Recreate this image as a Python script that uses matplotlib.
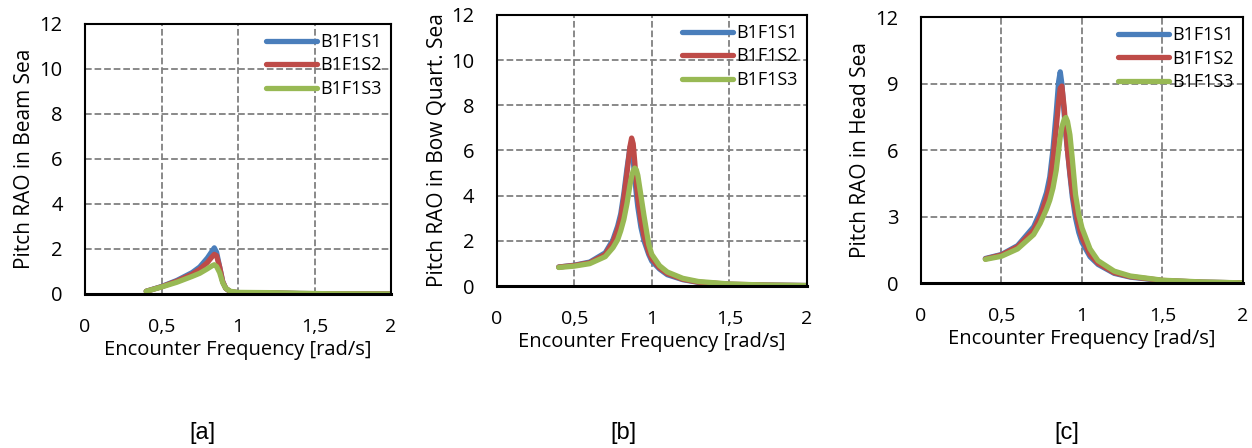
import numpy as np
import matplotlib.pyplot as plt
from matplotlib.ticker import FuncFormatter

plt.rcParams['font.family'] = ['Open Sans', 'DejaVu Sans']

series = ['B1F1S1', 'B1F1S2', 'B1F1S3']
colors = ['#4a7ebb', '#be4b48', '#98b954']

# Beam sea
x_a = [0.4, 0.5, 0.6, 0.7, 0.75, 0.8, 0.83, 0.845, 0.86, 0.88, 0.9, 0.92, 0.95, 1.0, 1.2, 1.4, 1.6, 2.0]
a_s1 = [0.12, 0.33, 0.6, 0.95, 1.2, 1.6, 1.9, 2.05, 1.85, 1.2, 0.55, 0.25, 0.1, 0.06, 0.05, 0.02, 0.01, 0.0]
a_s2 = [0.12, 0.32, 0.57, 0.88, 1.1, 1.4, 1.65, 1.76, 1.7, 1.2, 0.55, 0.25, 0.1, 0.06, 0.05, 0.02, 0.01, 0.0]
a_s3 = [0.12, 0.31, 0.52, 0.78, 0.92, 1.12, 1.25, 1.3, 1.22, 0.95, 0.5, 0.25, 0.12, 0.07, 0.06, 0.03, 0.01, 0.0]

# Bow quartering sea
x_b = [0.4, 0.5, 0.6, 0.7, 0.75, 0.78, 0.8, 0.82, 0.84, 0.86, 0.87, 0.88, 0.89, 0.9, 0.91,
       0.93, 0.95, 0.98, 1.0, 1.05, 1.1, 1.2, 1.3, 1.5, 1.75, 2.0]
b_s1 = [0.84, 0.92, 1.06, 1.47, 2.05, 2.65, 3.2, 4.1, 5.2, 6.15, 6.2, 5.6, 4.8, 4.1, 3.5,
        2.6, 2.0, 1.4, 1.1, 0.75, 0.5, 0.28, 0.16, 0.07, 0.04, 0.02]
b_s2 = [0.84, 0.91, 1.03, 1.4, 1.95, 2.5, 3.0, 3.9, 5.0, 6.2, 6.55, 6.3, 5.5, 4.6, 3.9,
        2.9, 2.2, 1.5, 1.2, 0.8, 0.55, 0.3, 0.17, 0.08, 0.04, 0.02]
b_s3 = [0.82, 0.88, 0.99, 1.3, 1.7, 2.05, 2.45, 2.95, 3.65, 4.5, 4.85, 5.1, 5.22, 5.15, 4.9,
        4.0, 3.1, 1.85, 1.4, 0.9, 0.62, 0.34, 0.2, 0.09, 0.04, 0.02]

# Head sea
x_c = [0.4, 0.5, 0.6, 0.7, 0.74, 0.78, 0.8, 0.82, 0.84, 0.855, 0.865, 0.875, 0.89, 0.9, 0.91,
       0.925, 0.94, 0.96, 0.98, 1.0, 1.05, 1.1, 1.2, 1.3, 1.5, 1.75, 2.0]
c_s1 = [1.12, 1.3, 1.7, 2.55, 3.2, 4.1, 4.8, 6.05, 7.7, 9.1, 9.54, 9.0, 7.6, 6.7, 6.0,
        4.9, 3.9, 2.95, 2.3, 1.85, 1.2, 0.85, 0.45, 0.28, 0.12, 0.05, 0.02]
c_s2 = [1.1, 1.28, 1.65, 2.4, 3.0, 3.85, 4.45, 5.6, 7.0, 8.2, 8.8, 8.9, 7.9, 6.9, 6.0,
        5.0, 4.1, 3.25, 2.6, 2.05, 1.3, 0.9, 0.48, 0.3, 0.13, 0.05, 0.02]
c_s3 = [1.08, 1.22, 1.55, 2.2, 2.7, 3.35, 3.75, 4.3, 5.1, 6.0, 6.6, 7.05, 7.4, 7.48, 7.3,
        6.7, 5.6, 4.0, 3.1, 2.5, 1.55, 1.02, 0.55, 0.33, 0.14, 0.06, 0.02]

panels = [
    ([0.0679, 0.3438, 0.2444, 0.6027], x_a, [a_s1, a_s2, a_s3], 'Pitch RAO in Beam Sea', [0, 2, 4, 6, 8, 10, 12], '[a]', 202),
    ([0.3967, 0.3616, 0.2478, 0.6050], x_b, [b_s1, b_s2, b_s3], 'Pitch RAO in Bow Quart. Sea', [0, 2, 4, 6, 8, 10, 12], '[b]', 623),
    ([0.7356, 0.3676, 0.2572, 0.5938], x_c, [c_s1, c_s2, c_s3], 'Pitch RAO in Head Sea', [0, 3, 6, 9, 12], '[c]', 1067),
]

comma = FuncFormatter(lambda v, p: ('%g' % v).replace('.', ','))

fig = plt.figure(figsize=(12.52, 4.48), dpi=100)
for rect, xs, ys, ylab, yt, tag, tx in panels:
    ax = fig.add_axes(rect)
    for y, name, c in zip(ys, series, colors):
        ax.plot(xs, y, color=c, lw=3.8, label=name, solid_capstyle='round')
    ax.set_xlim(0, 2)
    ax.set_ylim(0, 12)
    ax.set_xticks([0, 0.5, 1, 1.5, 2])
    ax.set_yticks(yt)
    ax.xaxis.set_major_formatter(comma)
    ax.grid(True, color='#808080', ls='--', lw=1.3)
    ax.set_axisbelow(True)
    ax.tick_params(axis='x', length=0, labelsize=14, pad=17)
    ax.tick_params(axis='y', length=0, labelsize=14.5, pad=16)
    for s in ax.spines.values():
        s.set_linewidth(1.5)
    ax.spines['bottom'].set_linewidth(2.2)
    ax.set_xlabel('Encounter Frequency [rad/s]', fontsize=14.5, labelpad=3)
    ax.set_ylabel(ylab, fontsize=15, labelpad=3)
    ax.legend(loc='upper right', frameon=False, fontsize=13, handlelength=2.8,
              handletextpad=0.2, labelspacing=0.3, borderaxespad=0.1)
    fig.text(tx / 1252, 1 - 433 / 448, tag, ha='center', va='center',
             fontsize=17, family='Liberation Sans')

plt.savefig('out.png', dpi=100)
